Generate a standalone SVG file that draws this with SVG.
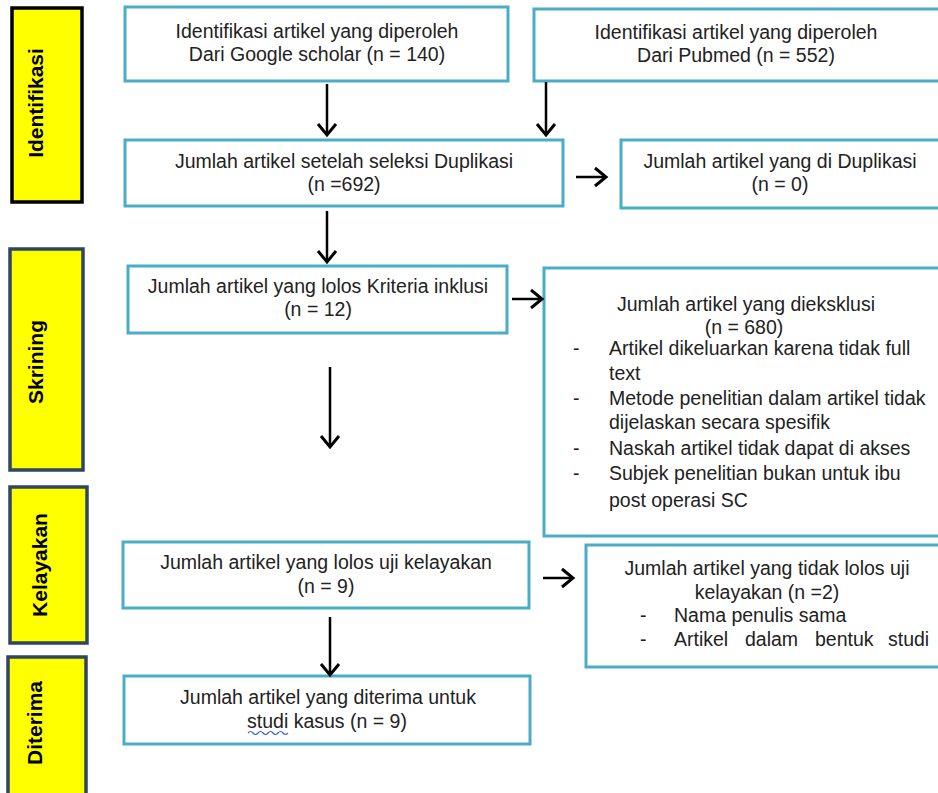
<svg xmlns="http://www.w3.org/2000/svg" width="938" height="793" viewBox="0 0 938 793">
<defs>
<style>
.box{fill:#fff;stroke:#4bacc6;stroke-width:3}
.side{fill:#ffff00;stroke:#2f4662;stroke-width:3.5}
.t{font-family:"Liberation Sans",Arial,sans-serif;font-size:19.5px;fill:#222}
.c{text-anchor:middle}
.s{font-family:"Liberation Sans",Arial,sans-serif;font-size:21px;font-weight:bold;fill:#000;text-anchor:middle}
.con{stroke:#000;stroke-width:2.5;fill:none;marker-end:url(#ah)}
</style>
<marker id="ah" markerUnits="userSpaceOnUse" markerWidth="16" markerHeight="22" viewBox="0 0 16 22" refX="13" refY="11" orient="auto">
<path d="M2,2 L13,11 L2,20" fill="none" stroke="#000" stroke-width="3"/>
</marker>
</defs>
<rect width="938" height="793" fill="#fff"/>

<g id="side-identifikasi">
<rect class="side" x="12" y="8" width="70" height="194" style="stroke:#000"/>
<text class="s" transform="translate(43,103) rotate(-90)">Identifikasi</text>
</g>
<g id="side-skrining">
<rect class="side" x="10" y="249" width="73" height="221"/>
<text class="s" transform="translate(43,362) rotate(-90)">Skrining</text>
</g>
<g id="side-kelayakan">
<rect class="side" x="10" y="487" width="77" height="156"/>
<text class="s" transform="translate(47,565) rotate(-90)">Kelayakan</text>
</g>
<g id="side-diterima">
<rect class="side" x="8" y="657" width="78" height="150"/>
<text class="s" transform="translate(42,723) rotate(-90)">Diterima</text>
</g>

<g id="n-google">
<rect class="box" x="125" y="7" width="383" height="74"/>
<text class="t c" x="317" y="38">Identifikasi artikel yang diperoleh</text>
<text class="t c" x="317" y="61">Dari Google scholar (n = 140)</text>
</g>
<g id="n-pubmed">
<rect class="box" x="534" y="9" width="410" height="72"/>
<text class="t c" x="736" y="39">Identifikasi artikel yang diperoleh</text>
<text class="t c" x="736" y="62">Dari Pubmed (n = 552)</text>
</g>
<g id="n-seleksi">
<rect class="box" x="125" y="140" width="438" height="66"/>
<text class="t c" x="344" y="168">Jumlah artikel setelah seleksi Duplikasi</text>
<text class="t c" x="344" y="191">(n =692)</text>
</g>
<g id="n-duplikasi">
<rect class="box" x="621" y="140" width="323" height="68"/>
<text class="t c" x="780" y="168">Jumlah artikel yang di Duplikasi</text>
<text class="t c" x="780" y="191">(n = 0)</text>
</g>
<g id="n-inklusi">
<rect class="box" x="128" y="266" width="379" height="67"/>
<text class="t c" x="318" y="293">Jumlah artikel yang lolos Kriteria inklusi</text>
<text class="t c" x="318" y="316">(n = 12)</text>
</g>
<g id="n-eksklusi">
<rect class="box" x="544" y="268" width="400" height="268"/>
<text class="t c" x="746" y="311">Jumlah artikel yang dieksklusi</text>
<text class="t c" x="744" y="334">(n = 680)</text>
<text class="t" x="573" y="355">-</text><text class="t" x="609" y="355">Artikel dikeluarkan karena tidak full</text>
<text class="t" x="609" y="380">text</text>
<text class="t" x="573" y="405">-</text><text class="t" x="609" y="405">Metode penelitian dalam artikel tidak</text>
<text class="t" x="609" y="429">dijelaskan secara spesifik</text>
<text class="t" x="573" y="455">-</text><text class="t" x="609" y="455">Naskah artikel tidak dapat di akses</text>
<text class="t" x="573" y="480">-</text><text class="t" x="609" y="480">Subjek penelitian bukan untuk ibu</text>
<text class="t" x="609" y="507">post operasi SC</text>
</g>
<g id="n-lolos">
<rect class="box" x="123" y="542" width="406" height="66"/>
<text class="t c" x="326" y="569">Jumlah artikel yang lolos uji kelayakan</text>
<text class="t c" x="326" y="593">(n = 9)</text>
</g>
<g id="n-tidaklolos">
<rect class="box" x="586" y="545" width="358" height="122"/>
<text class="t c" x="767" y="575">Jumlah artikel yang tidak lolos uji</text>
<text class="t c" x="767" y="599">kelayakan (n =2)</text>
<text class="t" x="640" y="622">-</text><text class="t" x="674" y="622">Nama penulis sama</text>
<text class="t" x="640" y="646">-</text><text class="t" x="674" y="646">Artikel</text><text class="t" x="745" y="646">dalam</text><text class="t" x="815" y="646">bentuk</text><text class="t" x="888" y="646">studi</text>
</g>
<g id="n-diterima">
<rect class="box" x="124" y="676" width="406" height="68"/>
<text class="t c" x="328" y="704">Jumlah artikel yang diterima untuk</text>
<text class="t c" x="327" y="728">studi kasus (n = 9)</text>
<path d="M248,733 q2.5,-3 5,0 t5,0 t5,0 t5,0 t5,0 t5,0 t5,0 t5,0" fill="none" stroke="#3b5bdb" stroke-width="1.2"/>
</g>

<g id="connectors">
<line class="con" x1="327" y1="84" x2="327" y2="135"/>
<line class="con" x1="546" y1="82" x2="546" y2="135"/>
<line class="con" x1="576" y1="177" x2="606" y2="177"/>
<line class="con" x1="327" y1="211" x2="327" y2="262"/>
<line class="con" x1="512" y1="299" x2="542" y2="299"/>
<line class="con" x1="330" y1="367" x2="330" y2="447"/>
<line class="con" x1="543" y1="578" x2="573" y2="578"/>
<line class="con" x1="330" y1="617" x2="330" y2="675"/>
</g>
</svg>
